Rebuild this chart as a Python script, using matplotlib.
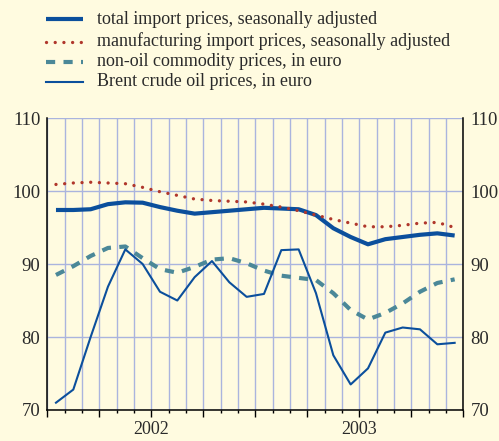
import numpy as np
import matplotlib
matplotlib.use("Agg")
import matplotlib.pyplot as plt
from matplotlib.lines import Line2D

# monthly observations, Jan 2002 - Dec 2003
months = np.arange(24)
years = ["2002", "2003"]

total_import = [97.4, 97.4, 97.5, 98.2, 98.45, 98.4, 97.8, 97.3, 96.9, 97.1, 97.3, 97.5,
                97.7, 97.6, 97.5, 96.7, 94.9, 93.7, 92.7, 93.4, 93.7, 94.0, 94.2, 93.9]
manufacturing = [100.9, 101.1, 101.2, 101.1, 101.0, 100.5, 99.9, 99.4, 98.9, 98.7, 98.6, 98.5,
                 98.2, 97.8, 97.3, 96.7, 96.1, 95.6, 95.1, 95.1, 95.3, 95.6, 95.7, 95.0]
non_oil = [88.5, 89.7, 91.1, 92.2, 92.4, 90.8, 89.3, 88.8, 89.6, 90.6, 90.8, 90.1,
           89.1, 88.4, 88.1, 87.8, 86.0, 83.7, 82.4, 83.3, 84.6, 86.2, 87.4, 87.9]
brent = [71.0, 72.8, 80.0, 86.9, 92.0, 90.0, 86.2, 85.0, 88.2, 90.4, 87.5, 85.5,
         85.9, 91.9, 92.0, 86.0, 77.5, 73.5, 75.7, 80.6, 81.3, 81.05, 79.0, 79.2]

labels = ["total import prices, seasonally adjusted",
          "manufacturing import prices, seasonally adjusted",
          "non-oil commodity prices, in euro",
          "Brent crude oil prices, in euro"]

bg = "#fffbe0"
grid_col = "#aab4de"
txt = "#2a2a2a"
blue = "#0b4f9c"
red = "#b0372c"
teal = "#4b8898"

plt.rcParams["font.family"] = ["Liberation Serif", "DejaVu Serif"]

fig = plt.figure(figsize=(4.99, 4.41), dpi=100, facecolor=bg)
ax = fig.add_axes([0.0948, 0.0703, 0.8337, 0.6621], facecolor=bg)

styles = [
    dict(color=blue, lw=3.0, solid_capstyle="butt"),
    dict(color=red, lw=2.4, linestyle=(0, (0.01, 2.6)), dash_capstyle="round"),
    dict(color=teal, lw=3.0, linestyle=(0, (2.2, 2.0)), dash_capstyle="butt"),
    dict(color=blue, lw=1.5),
]
series = [total_import, manufacturing, non_oil, brent]
draw_order = [3, 2, 1, 0]
for i in draw_order:
    ax.plot(months, series[i], zorder=3 + i * 0.1, **styles[i])

ax.set_xlim(-0.5, 23.5)
ax.set_ylim(70, 110)
ax.set_yticks([70, 80, 90, 100, 110])

# month boundaries as minor ticks, quarter boundaries as major ticks
ax.set_xticks(np.arange(-0.5, 24, 3))
ax.set_xticks(np.arange(0.5, 23, 1), minor=True)
ax.set_xticklabels([])
ax.tick_params(axis="x", which="major", direction="out", length=5, width=1.0, color="black")
ax.tick_params(axis="x", which="minor", direction="out", length=2.2, width=1.0, color="black")
ax.tick_params(axis="y", length=0, labelsize=13.5, labelcolor=txt, labelright=True, pad=5)

ax.grid(axis="x", which="both", color=grid_col, lw=1.0, zorder=1)
ax.grid(axis="y", which="major", color=grid_col, lw=1.0, zorder=1)
ax.set_axisbelow(True)

ax.spines["top"].set_visible(False)
for s in ["left", "right", "bottom"]:
    ax.spines[s].set_color("black")
    ax.spines[s].set_linewidth(1.1)

for k, yr in enumerate(years):
    ax.text(5.5 + 12 * k, -0.068, yr, transform=ax.get_xaxis_transform(),
            ha="center", va="center", fontsize=13, color=txt)

# legend drawn by hand in figure coordinates
rows = [19, 41.5, 62, 82]
for lab, st, y in zip(labels, styles, rows):
    yf = 1 - y / 441
    fig.add_artist(Line2D([46 / 499, 83 / 499], [yf, yf], transform=fig.transFigure, **st))
    fig.text(97 / 499, yf, lab, ha="left", va="center", fontsize=13, color=txt)

fig.savefig("out.png", dpi=100, facecolor=bg)
